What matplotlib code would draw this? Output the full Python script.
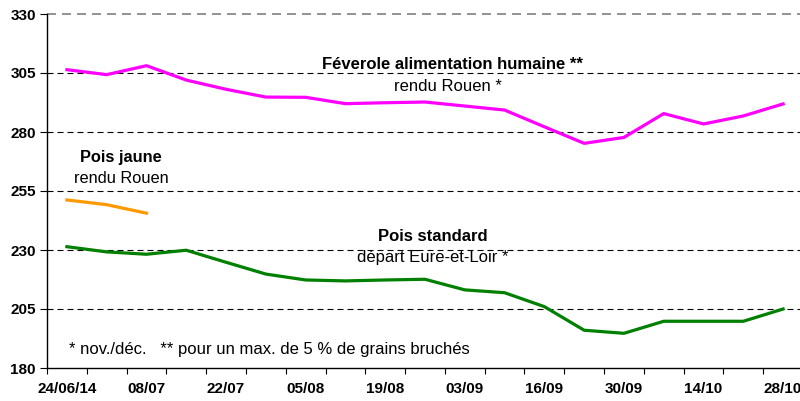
import matplotlib.pyplot as plt
import numpy as np

plt.rcParams['font.family'] = ['Liberation Sans', 'DejaVu Sans']

dates = ['24/06/14', '01/07', '08/07', '15/07', '22/07', '29/07', '05/08', '12/08', '19/08',
         '26/08', '03/09', '09/09', '16/09', '23/09', '30/09', '07/10', '14/10', '21/10', '28/10']
feverole = [306.4, 304.3, 308.1, 302.0, 298.1, 294.8, 294.7, 292.0, 292.4, 292.7,
            291.0, 289.3, 282.2, 275.2, 277.7, 287.8, 283.4, 286.8, 291.9]
pois_jaune = [251.2, 249.2, 245.6]
pois_standard = [231.4, 229.2, 228.2, 229.9, 224.8, 219.8, 217.3, 216.9, 217.3, 217.6,
                 213.1, 211.9, 206.0, 196.0, 194.7, 199.8, 199.8, 199.8, 205.0]
yticks = [180, 205, 230, 255, 280, 305, 330]

x = np.arange(len(dates))

fig = plt.figure(figsize=(8, 4.01), dpi=100)
ax = fig.add_axes([47/800, 33/401, 756/800, 354/401])

dash = (0, (5.4, 3.6))
for v in yticks[1:-1]:
    ax.axhline(v, color='black', lw=0.8, linestyle=dash, zorder=1)
ax.axhline(330, color='#808080', lw=1.2, linestyle=dash, zorder=1, clip_on=False)

ax.plot(x, feverole, color='#FF00FF', lw=2.3, zorder=3)
ax.plot(x[:len(pois_jaune)], pois_jaune, color='#FF9900', lw=2.3, zorder=3)
ax.plot(x, pois_standard, color='#008000', lw=2.3, zorder=3)

ax.set_xlim(-0.5, len(dates) - 0.5)
ax.set_ylim(180, 330)
ax.set_yticks(yticks)
ax.set_yticklabels([str(v) for v in yticks], fontsize=11, fontweight='bold')
ax.tick_params(axis='y', direction='out', length=5, width=0.8, pad=3)

ax.set_xticks(np.arange(-0.5, len(dates)), minor=False)
ax.set_xticklabels([])
ax.set_xticks(x[::2], minor=True)
ax.set_xticklabels(dates[::2], minor=True, fontsize=11, fontweight='bold')
ax.tick_params(axis='x', which='major', direction='out', length=4, width=0.8)
ax.tick_params(axis='x', which='minor', length=0, pad=10)

for s in ['top', 'right']:
    ax.spines[s].set_visible(False)
ax.spines['left'].set_linewidth(1.0)
ax.spines['bottom'].set_linewidth(1.0)

ax.text(9.7, 308.8, 'Féverole alimentation humaine **', ha='center', va='center',
        fontsize=12, fontweight='bold')
ax.text(9.57, 299.1, 'rendu Rouen *', ha='center', va='center', fontsize=12)
ax.text(1.36, 269.4, 'Pois jaune', ha='center', va='center', fontsize=11.8, fontweight='bold')
ax.text(1.36, 260.5, 'rendu Rouen', ha='center', va='center', fontsize=11.8)
ax.text(9.2, 235.9, 'Pois standard', ha='center', va='center', fontsize=12, fontweight='bold')
ax.text(9.2, 227.0, 'départ Eure-et-Loir *', ha='center', va='center', fontsize=12)
ax.text(0.05, 188.0, '* nov./déc.   ** pour un max. de 5 % de grains bruchés',
        ha='left', va='center', fontsize=12)

fig.savefig('out.png', dpi=100)
